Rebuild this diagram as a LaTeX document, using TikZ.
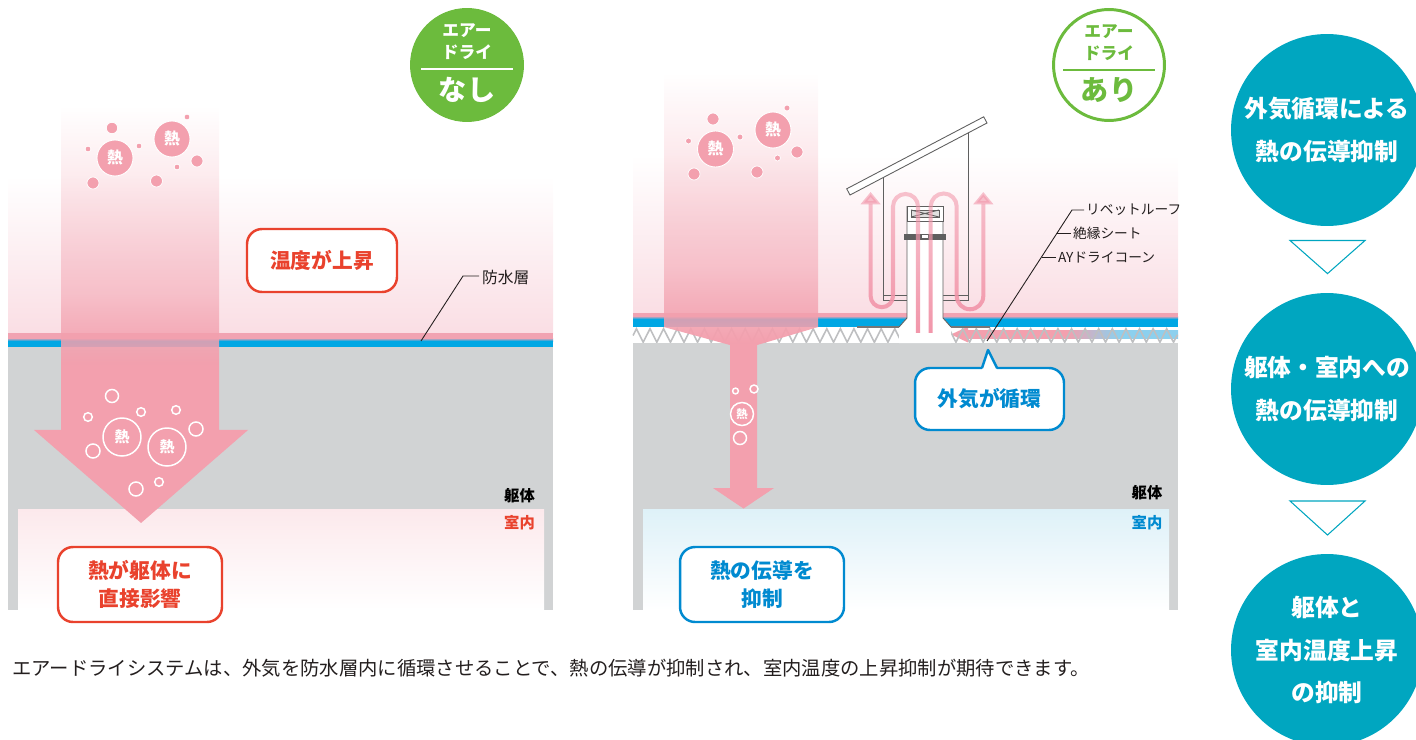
\documentclass[tikz,border=0pt]{standalone}
\usepackage{fontspec}
\setmainfont{Noto Sans CJK JP}
\usetikzlibrary{arrows.meta, positioning, fadings, decorations.pathmorphing}

\definecolor{bodygrey}{RGB}{209,211,212}
\definecolor{roofpink}{RGB}{250,222,228}
\definecolor{edgepink}{RGB}{241,163,178}
\definecolor{sheetblue}{RGB}{0,167,228}
\definecolor{heatpink}{RGB}{243,160,174}
\definecolor{flowpink}{RGB}{242,150,170}
\definecolor{airblue}{RGB}{140,208,238}
\definecolor{warnred}{RGB}{233,66,45}
\definecolor{calmblue}{RGB}{0,138,208}
\definecolor{badgegreen}{RGB}{108,187,61}
\definecolor{stepteal}{RGB}{0,166,192}
\definecolor{roomblue}{RGB}{222,241,248}
\definecolor{roompink}{RGB}{252,233,236}
\definecolor{zigzaggrey}{RGB}{190,191,193}
\definecolor{partgrey}{RGB}{95,95,95}
\definecolor{inktext}{RGB}{35,30,30}

% heat arrows fade out towards the sky (path box sits in 25bp..75bp)
\pgfdeclareverticalshading{heatmask}{100bp}{color(0bp)=(transparent!0); color(44bp)=(transparent!0);
    color(52.5bp)=(transparent!45); color(75bp)=(transparent!100); color(100bp)=(transparent!100)}
\tikzfading[name=heatfade, shading=heatmask]
\tikzfading[name=flowfade, top color=transparent!45, bottom color=transparent!0]
\pgfdeclarehorizontalshading{inflow}{100bp}{color(0bp)=(heatpink); color(49bp)=(heatpink);
    color(61bp)=(airblue); color(100bp)=(airblue)}

\tikzset{
    notebox/.style={rectangle, rounded corners=0.3cm, line width=1.4pt, fill=white,
                    align=center, inner sep=0pt, font=\fontsize{11.8}{16}\selectfont\bfseries},
    hotnote/.style={notebox, draw=warnred, text=warnred},
    coolnote/.style={notebox, draw=calmblue, text=calmblue},
    heatball/.style={circle, fill=heatpink, draw=white, line width=0.5pt, text=white,
                     minimum size=0.72cm, inner sep=0pt, font=\fontsize{9}{9}\selectfont\bfseries},
    heatring/.style={circle, draw=white, line width=0.85pt, text=white,
                     minimum size=0.76cm, inner sep=0pt, font=\fontsize{8.5}{9}\selectfont\bfseries},
    ringline/.style={draw=white, line width=0.85pt},
    badgetext/.style={inner sep=0pt, font=\fontsize{9.5}{10}\selectfont\bfseries},
    badgebig/.style={inner sep=0pt, font=\fontsize{16}{17}\selectfont\bfseries},
    stepball/.style={circle, fill=stepteal, text=white, align=center, inner sep=0pt,
                     minimum size=3.84cm, font=\fontsize{13.5}{24}\selectfont\bfseries},
    steptri/.style={draw=stepteal, line width=0.6pt, fill=white},
    zonelabel/.style={inner sep=0pt, font=\fontsize{8.7}{10}\selectfont\bfseries},
    partlabel/.style={anchor=west, inner sep=1pt, text=inktext, font=\fontsize{7.8}{9}\selectfont},
    leader/.style={draw=inktext, line width=0.5pt},
    partline/.style={draw=partgrey, line width=0.5pt},
    flowline/.style={draw=flowpink, line width=2.3pt, path fading=flowfade},
}

\begin{document}
\begin{tikzpicture}[x=0.02cm, y=-0.02cm]
    \useasboundingbox (0,0) rectangle (1416,740);

    % ---- without air dry ----
    \shade[top color=white, bottom color=roofpink] (8,176) rectangle (553,334);
    \fill[edgepink] (8,333) rectangle (553,338);
    \shade[top color=edgepink, bottom color=sheetblue] (8,338) rectangle (553,341);
    \fill[sheetblue] (8,341) rectangle (553,347.5);
    \fill[bodygrey] (8,347) rectangle (553,610);
    \shade[top color=roompink, bottom color=white] (18,509) rectangle (544,610);

    \fill[heatpink, path fading=heatfade] (61,106) -- (219,106) -- (219,430)
        -- (248,430) -- (141,523) -- (34,430) -- (61,430) -- cycle;

    \filldraw[heatpink, draw=white, line width=0.4pt] (112,128) circle (5.7) (187,117) circle (2.9)
        (88,149) circle (2.9) (139,146) circle (2.9) (197,161) circle (6) (93,183) circle (6)
        (156.5,181) circle (6) (177,167) circle (2.9);
    \node[heatball] (heatA) at (115,158) {熱};
    \node[heatball] (heatB) at (172,139) {熱};

    \draw[ringline] (112,396) circle (6.5) (88,417) circle (4.3) (141,412) circle (4.3)
        (176,410) circle (4.3) (196,429) circle (7) (93,451) circle (7) (136,489) circle (7)
        (159,482) circle (4.3);
    \node[heatring] (heatC) at (122,437) {熱};
    \node[heatring] (heatD) at (167,447) {熱};

    \node[hotnote, minimum width=3cm, minimum height=1.26cm] (tempup) at (322,260.5) {温度が上昇};
    \draw[leader] (479,276) -- (463,276) -- (421,341);
    \node[partlabel, font=\fontsize{9}{10}\selectfont] (sheetlbl) at (480,277) {防水層};
    \node[zonelabel] (bodyL) at (519.5,496) {躯体};
    \node[zonelabel, text=warnred] (roomL) at (519.5,523) {室内};
    \node[hotnote, minimum width=3.28cm, minimum height=1.5cm] (direct) at (140,584.5) {熱が躯体に\\直接影響};

    \node[circle, fill=badgegreen, minimum size=2.28cm] (nobadge) at (467,65) {};
    \node[badgetext, text=white] (nobadgeA) at (467,31) {エアー};
    \node[badgetext, text=white] (nobadgeB) at (467,52) {ドライ};
    \draw[white, line width=0.6pt] (421,69) -- (513,69);
    \node[badgebig, text=white] (nobadgeC) at (467,90) {なし};

    % ---- with air dry ----
    \shade[top color=white, bottom color=roofpink] (633,155) rectangle (1178,314);
    \fill[edgepink] (633,313) rectangle (1178,317);
    \shade[top color=edgepink, bottom color=sheetblue] (633,316) rectangle (1178,319);
    \fill[sheetblue] (633,319) rectangle (1178,327);
    \fill[white] (633,327) rectangle (1178,343);
    % outside air drawn in along the cone layer
    \shade[shading=inflow] (965,330.5) rectangle (1178,338.5);
    \fill[heatpink] (951,334.5) -- (968,326.5) -- (968,342.5) -- cycle;
    \draw[zigzaggrey, line width=0.9pt, decorate,
          decoration={zigzag, segment length=0.272cm, amplitude=0.135cm}] (633,335.5) -- (1178,335.5);
    \fill[bodygrey] (633,343) rectangle (1178,610);
    \shade[top color=roomblue, bottom color=white] (643,509) rectangle (1169,610);

    \fill[heatpink, path fading=heatfade] (664,73) -- (818,73) -- (818,327) -- (757,345)
        -- (757,488) -- (774,488) -- (743.5,508.5) -- (713,488) -- (730,488) -- (730,345)
        -- (664,327) -- cycle;

    \filldraw[heatpink, draw=white, line width=0.4pt] (713,119) circle (6) (787,108) circle (3)
        (688.5,141) circle (3) (740,137) circle (3) (797,152) circle (6) (694,174) circle (6)
        (757,172) circle (6) (777.5,158) circle (3);
    \node[heatball] (heatE) at (715.5,149) {熱};
    \node[heatball] (heatF) at (773,130) {熱};

    \draw[ringline] (735.5,391) circle (2.9) (754,389) circle (4) (740,438) circle (6.5);
    \node[heatring, minimum size=0.46cm, font=\fontsize{6.5}{7}\selectfont\bfseries] (heatG) at (742,414) {熱};

    % ventilation cap
    \filldraw[partline, fill=white] (846.7,188.8) -- (850,195) -- (987,123) -- (983.7,116.8) -- cycle;
    \draw[partline] (883,177.7) -- (883,300) -- (907,300) (883,295) -- (907,295);
    \draw[partline] (968,133) -- (968,300) -- (943,300) (968,295) -- (943,295);
    \fill[white] (907,206) -- (907,318) -- (899,327) -- (899,343) -- (951,343) -- (951,327)
        -- (943,318) -- (943,206) -- cycle;
    \draw[partline] (907,206) -- (907,318) -- (899,327) (943,206) -- (943,318) -- (951,327);
    \draw[partgrey!85, line width=0.8pt] (857,327) -- (899,327) (951,327) -- (990,327);
    \filldraw[partline, fill=white] (907,206) rectangle (943,221);
    \filldraw[partline, fill=black!12] (911,210) rectangle (939,217);
    \draw[partline] (911,210) -- (939,217) (911,217) -- (939,210);
    \fill[partgrey] (904,234) rectangle (946,239.5);
    \fill[white] (922,235.3) rectangle (928,238.3);

    \draw[flowline, -{Triangle[width=11pt, length=7pt]}] (918,333) -- (918,206.5)
        arc[start angle=0, end angle=-180, radius=12.5] -- (893,296)
        arc[start angle=0, end angle=180, radius=11.2] -- (870.6,192);
    \draw[flowline, -{Triangle[width=11pt, length=7pt]}] (930.7,333) -- (930.7,206.5)
        arc[start angle=180, end angle=360, radius=13] -- (956.7,296)
        arc[start angle=180, end angle=0, radius=13.3] -- (983.3,192);

    \draw[leader] (1084,210) -- (1072,210) -- (987,341);
    \draw[leader] (1071,233.5) -- (1056.8,233.5);
    \draw[leader] (1056,257) -- (1041.5,257);
    \node[partlabel] (rivet) at (1084,210) {リベットルーフ};
    \node[partlabel] (insul) at (1071,233.5) {絶縁シート};
    \node[partlabel] (cone) at (1056,257) {AYドライコーン};

    \node[coolnote, minimum width=2.98cm, minimum height=1.24cm] (airloop) at (989.5,399) {外気が循環};
    \fill[white] (982,370) -- (988,350) -- (997,370) -- cycle;
    \draw[calmblue, line width=1.4pt, line join=round] (982,368) -- (988,350) -- (997,368);

    \node[zonelabel] (bodyR) at (1147,493) {躯体};
    \node[zonelabel, text=calmblue] (roomR) at (1147,523) {室内};
    \node[coolnote, minimum width=3.28cm, minimum height=1.5cm] (curbed) at (762,584.5) {熱の伝導を\\抑制};

    \node[circle, draw=badgegreen, line width=1.7pt, fill=white, minimum size=2.22cm] (withbadge) at (1109,65) {};
    \node[badgetext, text=badgegreen] (withbadgeA) at (1109,32) {エアー};
    \node[badgetext, text=badgegreen] (withbadgeB) at (1109,53) {ドライ};
    \draw[badgegreen, line width=0.6pt] (1063,70) -- (1155,70);
    \node[badgebig, text=badgegreen] (withbadgeC) at (1109,90) {あり};

    % ---- effects ----
    \node[stepball] (stepA) at (1327,130) {外気循環による\\熱の伝導抑制};
    \filldraw[steptri] (1290,240.5) -- (1365,240.5) -- (1327.5,273.6) -- cycle;
    \node[stepball] (stepB) at (1327,389) {躯体・室内への\\熱の伝導抑制};
    \filldraw[steptri] (1290,501) -- (1365,501) -- (1327.5,535) -- cycle;
    \node[stepball] (stepC) at (1327,650) {躯体と\\室内温度上昇\\の抑制};

    \node[anchor=west, inner sep=0pt, text=inktext, font=\fontsize{11}{12}\selectfont] (summary) at (12,668)
        {エアードライシステムは、外気を防水層内に循環させることで、熱の伝導が抑制され、室内温度の上昇抑制が期待できます。};
\end{tikzpicture}
\end{document}
